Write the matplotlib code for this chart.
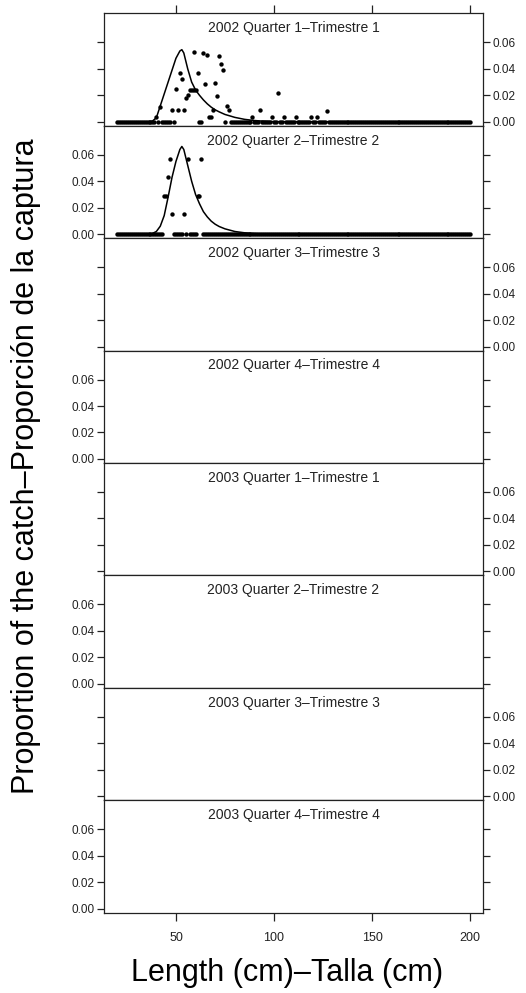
import numpy as np
import matplotlib
matplotlib.use("Agg")
import matplotlib.pyplot as plt

plt.rcParams['font.family'] = ['Liberation Sans', 'DejaVu Sans']

# Panel titles
titles = [
    "2002 Quarter 1\u2013Trimestre 1",
    "2002 Quarter 2\u2013Trimestre 2",
    "2002 Quarter 3\u2013Trimestre 3",
    "2002 Quarter 4\u2013Trimestre 4",
    "2003 Quarter 1\u2013Trimestre 1",
    "2003 Quarter 2\u2013Trimestre 2",
    "2003 Quarter 3\u2013Trimestre 3",
    "2003 Quarter 4\u2013Trimestre 4",
]

# length bins (cm)
lengths = np.arange(20, 201)

# observed proportions (non-zero ones), 2002 Q1
obs1_len = [40, 42, 48, 50, 51, 52, 53, 54, 55, 56, 57, 58, 59, 60, 59, 61,
            64, 65, 66, 67, 68, 69, 70, 71, 72, 73, 74, 76, 77, 89, 93, 99,
            102, 105, 111, 119, 122, 127]
obs1_val = [0.0038, 0.0113, 0.0085, 0.0247, 0.0085, 0.0365, 0.032, 0.0085,
            0.0183, 0.020, 0.024, 0.024, 0.024, 0.024, 0.053, 0.0365,
            0.052, 0.0285, 0.0506, 0.0038, 0.0038, 0.0088, 0.029, 0.0196,
            0.0496, 0.044, 0.0395, 0.0118, 0.009, 0.0038, 0.009, 0.0038,
            0.0214, 0.0038, 0.0038, 0.0038, 0.0038, 0.0083]

# observed proportions (non-zero ones), 2002 Q2
obs2_len = [44, 45, 46, 47, 48, 54, 56, 61, 62, 63]
obs2_val = [0.0285, 0.0285, 0.0435, 0.0568, 0.0155, 0.0155, 0.0568,
            0.0285, 0.0285, 0.0568]

# predicted proportions
pred_len = [20, 36, 38, 40, 42, 44, 46, 48, 50, 52, 53, 54, 56, 58, 60, 62,
            64, 66, 68, 70, 72, 75, 78, 80, 85, 90, 95, 100, 200]
pred1 = [0, 0, 0.0005, 0.003, 0.012, 0.021, 0.030, 0.039, 0.048, 0.0535,
         0.0545, 0.052, 0.040, 0.030, 0.024, 0.020, 0.0165, 0.0135, 0.011,
         0.0090, 0.0075, 0.0055, 0.0042, 0.0033, 0.0018, 0.0009, 0.0004,
         0.0001, 0]
pred2 = [0, 0, 0.0005, 0.002, 0.006, 0.014, 0.028, 0.043, 0.055, 0.064,
         0.0663, 0.064, 0.052, 0.040, 0.030, 0.023, 0.017, 0.013, 0.0098,
         0.0075, 0.0058, 0.004, 0.0028, 0.002, 0.001, 0.0004, 0.0001, 0, 0]

observed = [(obs1_len, obs1_val), (obs2_len, obs2_val)] + [None] * 6
predicted = [pred1, pred2] + [None] * 6

ink = "#222222"
W, H = 526, 993
fig = plt.figure(figsize=(W / 100, H / 100), dpi=100)

left, right = 104, 483
top, bottom = 13.3, 912.5
ph = (bottom - top) / 8

for i in range(8):
    y_low = top + (i + 1) * ph   # pixel row of panel bottom
    ax = fig.add_axes([left / W, (H - y_low) / H, (right - left) / W, ph / H])
    ax.set_xlim(13.3, 206.6)
    ax.set_ylim(-0.003, 0.082)

    if observed[i] is not None:
        ol, ov = observed[i]
        zero_len = [L for L in lengths if L not in ol]
        ax.scatter(zero_len, np.zeros(len(zero_len)), s=10, color="black",
                   linewidths=0, zorder=2)
        ax.scatter(ol, ov, s=10, color="black", linewidths=0, zorder=3)
        ax.plot(pred_len, predicted[i], color="black", lw=1.1, zorder=4)

    ax.text(0.5, 0.93, titles[i], transform=ax.transAxes, ha="center",
            va="top", fontsize=10, color=ink)

    for s in ax.spines.values():
        s.set_color(ink)
        s.set_linewidth(0.9)

    ax.set_yticks([0.00, 0.02, 0.04, 0.06])
    ax.set_yticklabels(["0.00", "0.02", "0.04", "0.06"])
    labels_right = (i % 2 == 0)
    ax.tick_params(axis="y", direction="out", length=5, width=0.9,
                   colors=ink, labelsize=8.5, left=True, right=True,
                   labelleft=not labels_right, labelright=labels_right, pad=2)

    ax.set_xticks([50, 100, 150, 200])
    if i == 0:
        ax.tick_params(axis="x", direction="out", length=6, width=0.9,
                       colors=ink, top=True, bottom=False,
                       labeltop=False, labelbottom=False)
    elif i == 7:
        ax.tick_params(axis="x", direction="out", length=6, width=0.9,
                       colors=ink, labelsize=9, top=False, bottom=True,
                       labelbottom=True, pad=8)
    else:
        ax.tick_params(axis="x", bottom=False, top=False, labelbottom=False)

fig.text(287 / W, 1 - 973 / H, "Length (cm)\u2013Talla (cm)",
         ha="center", va="center", fontsize=22)
fig.text(26 / W, 1 - 466 / H,
         "Proportion of the catch\u2013Proporci\u00f3n de la captura",
         ha="center", va="center", rotation=90, fontsize=22)

fig.savefig("out.png", dpi=100)
